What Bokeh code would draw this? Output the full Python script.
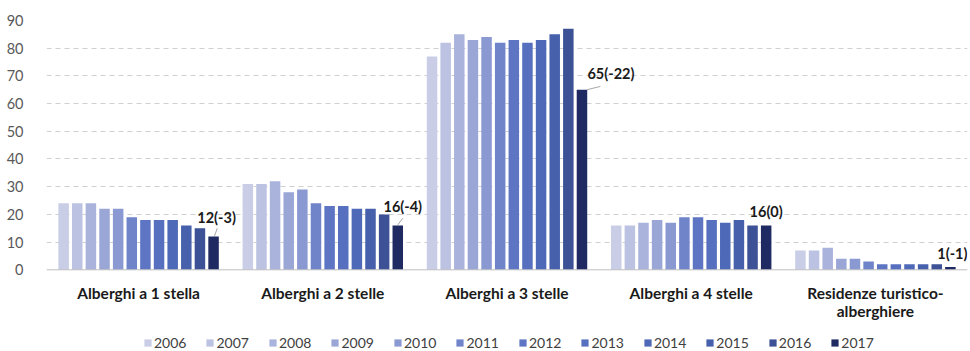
import numpy as np
from bokeh.plotting import figure
from bokeh.models import (Range1d, FixedTicker, Legend, LegendItem, Span, ColumnDataSource)
from bokeh.core.properties import value
from bokeh.embed import file_html
from bokeh.resources import INLINE

# ---- data ----
categories = ["Alberghi a 1 stella", "Alberghi a 2 stelle", "Alberghi a 3 stelle",
              "Alberghi a 4 stelle", "Residenze turistico-\nalberghiere"]
years = [2006, 2007, 2008, 2009, 2010, 2011, 2012, 2013, 2014, 2015, 2016, 2017]
stars1 = [24, 24, 24, 22, 22, 19, 18, 18, 18, 16, 15, 12]
stars2 = [31, 31, 32, 28, 29, 24, 23, 23, 22, 22, 20, 16]
stars3 = [77, 82, 85, 83, 84, 82, 83, 82, 83, 85, 87, 65]
stars4 = [16, 16, 17, 18, 17, 19, 19, 18, 17, 18, 16, 16]
rta = [7, 7, 8, 4, 4, 3, 2, 2, 2, 2, 2, 1]
y_ticks = [0, 10, 20, 30, 40, 50, 60, 70, 80, 90]

colors = ["#c9cde6", "#bcc2e2", "#aab3dc", "#9aa6d6", "#8b99d2", "#7084ca",
          "#5d75c3", "#5670bf", "#4e69b8", "#4660ac", "#3c5196", "#1f2a63"]

series = np.array([stars1, stars2, stars3, stars4, rta])  # shape (5 cats, 12 years)

FONT = "Lato"
# frame spans to the bottom edge; the space below 0 holds category labels + legend
p = figure(width=970, height=351, output_backend="svg", toolbar_location=None,
           x_range=Range1d(-0.5, 4.5), y_range=Range1d(-29.5, 90),
           min_border_left=46, min_border_right=3, min_border_top=20,
           min_border_bottom=0)
p.outline_line_color = None
p.background_fill_color = "white"
p.border_fill_color = "white"
p.xaxis.visible = False

xc = np.arange(len(categories))
step = 0.074
bw = 0.057
items = []
for i, yr in enumerate(years):
    src = ColumnDataSource(dict(x=xc + (i - 5.5) * step, top=series[:, i]))
    r = p.vbar(x="x", top="top", width=bw, bottom=0, source=src,
               fill_color=colors[i], line_color=None)
    items.append(LegendItem(label=str(yr), renderers=[r]))

# baseline
p.add_layout(Span(location=0, dimension="width", line_color="#bfbfbf", line_width=1))

# category labels
p.text(x=xc, y=[-5.2] * len(categories), text=categories, text_align="center",
       text_baseline="top", text_font=value(FONT), text_font_style="bold",
       text_font_size="15.5px", text_color="#1a1a1a", text_line_height=0.97)

# annotations for 2017 (value and change vs 2016)
last = series[:, -1]
prev = series[:, -2]
ann_text = [f"{int(a)}({int(a - b)})" for a, b in zip(last, prev)]
bar_x = xc + 5.5 * step
lab_dx = [3, 5, 29, 0, 2]          # px
lab_dy = [7, 6.8, 6, 5, 5]         # data units
p.text(x=bar_x, y=last + np.array(lab_dy), text=ann_text,
       x_offset=lab_dx, text_align="center", text_baseline="middle",
       text_font=value(FONT), text_font_style="bold", text_font_size="14.5px",
       text_color="#1a1a1a")

# leader lines (groups 1-3)
ld_x0 = [0.005, 0.0, 0.027]
ld_x1 = [0.02, 0.027, 0.10]
ld_y0 = [0.2, 0.2, 0.0]
ld_y1 = [3.0, 2.6, 1.2]
p.segment(x0=bar_x[:3] + np.array(ld_x0), y0=last[:3] + np.array(ld_y0),
          x1=bar_x[:3] + np.array(ld_x1), y1=last[:3] + np.array(ld_y1),
          line_color="#a6a6a6", line_width=1)

p.yaxis.ticker = FixedTicker(ticks=y_ticks)
p.yaxis.axis_line_color = None
p.yaxis.major_tick_line_color = None
p.yaxis.minor_tick_line_color = None
p.yaxis.major_label_text_font = FONT
p.yaxis.major_label_text_font_size = "14.5px"
p.yaxis.major_label_text_color = "#595959"
p.yaxis.major_label_standoff = 17

p.xgrid.grid_line_color = None
p.ygrid.ticker = FixedTicker(ticks=y_ticks[1:])
p.ygrid.grid_line_color = "#d0d0d0"
p.ygrid.grid_line_dash = "5 4"
p.ygrid.grid_line_width = 1

legend = Legend(items=items, orientation="horizontal", location=(97, 0),
                glyph_width=9, glyph_height=9, label_standoff=2, spacing=19,
                padding=0, margin=0, label_height=14,
                label_text_font=FONT, label_text_font_size="14px",
                label_text_color="#404040", background_fill_alpha=0,
                border_line_color=None)
p.add_layout(legend, "center")

open("out.html", "w").write(file_html(p, INLINE))
